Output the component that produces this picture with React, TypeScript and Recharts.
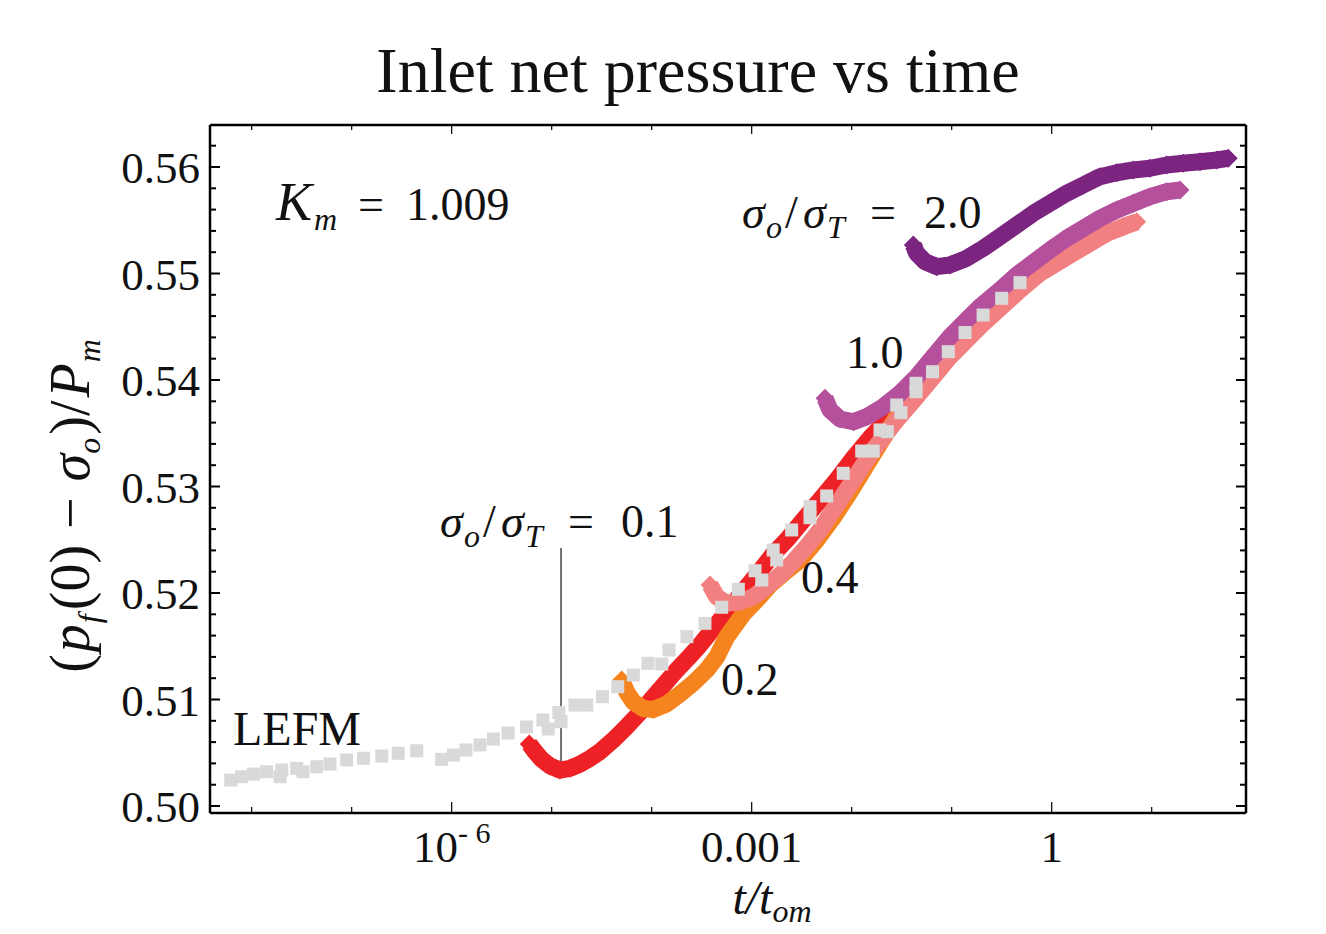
import React from "react";
import { ScatterChart, Scatter, XAxis, YAxis, ReferenceLine } from "recharts";

const W = 1326;
const H = 934;
const SERIF = "'Liberation Serif', 'Times New Roman', serif";

// [t/t_om, (p_f(0) - sigma_o)/P_m]
const lefm: [number, number][] = [
  [6.17e-9, 0.50244], [7.94e-9, 0.50275], [1.04e-8, 0.503], [1.41e-8, 0.50322],
  [1.92e-8, 0.50275], [2.0e-8, 0.50338], [2.82e-8, 0.50354], [3.26e-8, 0.50322],
  [4.47e-8, 0.50369], [6.07e-8, 0.50394], [8.91e-8, 0.50432], [1.31e-7, 0.50448],
  [2.0e-7, 0.50469], [2.92e-7, 0.50495], [4.47e-7, 0.50519], [7.94e-7, 0.50438],
  [1.04e-6, 0.50479], [1.39e-6, 0.50526], [1.92e-6, 0.50573], [2.61e-6, 0.50629],
  [3.66e-6, 0.50685], [5.6e-6, 0.50742], [8.18e-6, 0.50808], [9.25e-6, 0.50723],
  [1.18e-5, 0.50878], [1.24e-5, 0.50792], [1.71e-5, 0.50948], [2.24e-5, 0.50948],
  [3.22e-5, 0.51026], [4.58e-5, 0.5112], [6.55e-5, 0.5123], [9.18e-5, 0.5134],
  [1.26e-4, 0.51333], [1.49e-4, 0.51465], [2.25e-4, 0.5159], [3.41e-4, 0.51715],
  [5.01e-4, 0.51866], [7.35e-4, 0.52035], [1.08e-3, 0.52209], [1.26e-3, 0.52122],
  [1.64e-3, 0.52404], [1.78e-3, 0.5231], [2.51e-3, 0.52592], [3.83e-3, 0.5281],
  [3.83e-3, 0.52707], [5.62e-3, 0.52911], [8.24e-3, 0.53124], [1.26e-2, 0.53333],
  [1.64e-2, 0.53333], [1.92e-2, 0.53531], [2.27e-2, 0.53515], [2.82e-2, 0.53765],
  [3.11e-2, 0.53693], [4.4e-2, 0.53969], [4.4e-2, 0.5389], [6.43e-2, 0.54078],
  [9.25e-2, 0.54266], [0.136, 0.54446], [0.206, 0.5461], [0.316, 0.54767],
  [0.482, 0.54914],
];

const s01: [number, number][] = [
  [5.97e-6, 0.50582], [6.81e-6, 0.5051], [7.94e-6, 0.50438], [9.62e-6, 0.50376],
  [1.21e-5, 0.50338], [1.52e-5, 0.50354], [1.92e-5, 0.50394], [2.42e-5, 0.50448],
  [3.04e-5, 0.5051], [4.13e-5, 0.5062], [5.62e-5, 0.50745], [7.08e-5, 0.50845],
  [8.91e-5, 0.50948], [1.12e-4, 0.51058], [1.41e-4, 0.51167], [1.78e-4, 0.51277],
  [2.32e-4, 0.5139], [3.04e-4, 0.51512], [4.01e-4, 0.51653], [5.62e-4, 0.51822],
  [8.24e-4, 0.52019], [1.21e-3, 0.52207], [1.64e-3, 0.52366], [2.24e-3, 0.52498],
  [3.28e-3, 0.52685], [4.82e-3, 0.52873], [7.08e-3, 0.53061], [1.04e-2, 0.53268],
  [1.52e-2, 0.53455], [2.15e-2, 0.53606], [3.04e-2, 0.53756], [4.82e-2, 0.53944],
];

const s02: [number, number][] = [
  [5.01e-5, 0.51183], [5.62e-5, 0.5107], [6.55e-5, 0.50977], [8.24e-5, 0.50915],
  [1.04e-4, 0.50906], [1.41e-4, 0.50958], [1.92e-4, 0.51052], [2.61e-4, 0.51155],
  [3.55e-4, 0.51277], [4.47e-4, 0.51399], [5.62e-4, 0.51587], [8.24e-4, 0.51803],
  [1.12e-3, 0.51934], [1.52e-3, 0.52075], [2.15e-3, 0.52197], [3.04e-3, 0.5231],
  [4.4e-3, 0.52488], [6.5e-3, 0.52704], [9.62e-3, 0.52948], [1.39e-2, 0.53192],
  [2.01e-2, 0.53437], [2.77e-2, 0.53643], [4.01e-2, 0.5385], [6.07e-2, 0.54075],
];

const s04: [number, number][] = [
  [3.83e-4, 0.52075], [4.47e-4, 0.51965], [5.62e-4, 0.51903], [7.64e-4, 0.51918],
  [1.04e-3, 0.51965], [1.41e-3, 0.52059], [1.92e-3, 0.52169], [2.61e-3, 0.52294],
  [3.55e-3, 0.52435], [4.82e-3, 0.52592], [6.55e-3, 0.52779], [8.91e-3, 0.52967],
  [1.21e-2, 0.53155], [1.64e-2, 0.53343], [2.15e-2, 0.53484], [2.82e-2, 0.53624],
  [4.47e-2, 0.53843], [6.55e-2, 0.54031], [9.62e-2, 0.54219], [0.141, 0.54376],
  [0.207, 0.54532], [0.316, 0.54688], [0.482, 0.54845], [0.764, 0.55002],
  [1.12, 0.55096], [1.64, 0.5519], [2.42, 0.55284], [3.55, 0.55377],
  [5.2, 0.55439], [7.08, 0.55486],
];

const s10: [number, number][] = [
  [5.41e-3, 0.53828], [6.07e-3, 0.53718], [7.64e-3, 0.53634], [1.04e-2, 0.53608],
  [1.41e-2, 0.53655], [2.07e-2, 0.53749], [3.04e-2, 0.53875], [4.47e-2, 0.54031],
  [6.55e-2, 0.54219], [9.62e-2, 0.54407], [0.141, 0.54563], [0.192, 0.54688],
  [0.304, 0.54845], [0.447, 0.54986], [0.655, 0.55103], [0.962, 0.55221],
  [1.41, 0.5533], [2.07, 0.55424], [3.04, 0.55518], [4.47, 0.55596],
  [6.55, 0.55659], [9.62, 0.55721], [14.1, 0.55768], [19.2, 0.55784],
];

const s20: [number, number][] = [
  [4.13e-2, 0.55268], [4.47e-2, 0.5519], [5.41e-2, 0.55111], [7.08e-2, 0.55064],
  [9.62e-2, 0.5508], [0.141, 0.55143], [0.207, 0.55237], [0.304, 0.55346],
  [0.447, 0.55455], [0.655, 0.55565], [0.962, 0.55659], [1.41, 0.55753],
  [2.07, 0.55831], [3.04, 0.55909], [4.47, 0.55946], [6.55, 0.55972],
  [9.62, 0.55988], [14.1, 0.56019], [20.7, 0.56035], [30.4, 0.5605],
  [44.7, 0.56066], [58.3, 0.56082],
];

const X_TICKS = [1e-8, 1e-7, 1e-6, 1e-5, 1e-4, 1e-3, 1e-2, 1e-1, 1, 10];
const X_LABELED = [1e-6, 1e-3, 1];
const Y_TICKS = [
  0.5, 0.502, 0.504, 0.506, 0.508, 0.51, 0.512, 0.514, 0.516, 0.518, 0.52,
  0.522, 0.524, 0.526, 0.528, 0.53, 0.532, 0.534, 0.536, 0.538, 0.54, 0.542,
  0.544, 0.546, 0.548, 0.55, 0.552, 0.554, 0.556, 0.558, 0.56, 0.562,
];
const X_DOMAIN: [number, number] = [3.83e-9, 87.7];
const Y_DOMAIN: [number, number] = [0.499343, 0.563944];

const toPts = (a: [number, number][]) => a.map(([t, p]) => ({ t, p }));

const isLabeledX = (v: number) =>
  X_LABELED.some((l) => Math.abs(Math.log10(l) - Math.log10(v)) < 1e-6);
const isMajorY = (v: number) => Math.abs(v * 100 - Math.round(v * 100)) < 1e-6;

const diamond = (fill: string, r: number) => (props: any) => {
  const { cx, cy } = props;
  if (cx == null || cy == null) return <g />;
  return (
    <polygon
      points={`${cx},${cy - r} ${cx + r},${cy} ${cx},${cy + r} ${cx - r},${cy}`}
      fill={fill}
    />
  );
};

const square = (fill: string, h: number) => (props: any) => {
  const { cx, cy } = props;
  if (cx == null || cy == null) return <g />;
  return <rect x={cx - h} y={cy - h} width={2 * h} height={2 * h} fill={fill} />;
};

function BottomTick(props: any) {
  const { x, y, payload } = props;
  const v = payload.value;
  const lab = isLabeledX(v);
  let label: React.ReactNode = null;
  if (lab) {
    if (Math.abs(Math.log10(v) + 6) < 1e-6) {
      label = (
        <text x={x} y={y + 49} textAnchor="middle" fontSize={45} fontFamily={SERIF} fill="#111">
          10<tspan fontSize={30} dy={-19}>- 6</tspan>
        </text>
      );
    } else {
      label = (
        <text x={x} y={y + 49} textAnchor="middle" fontSize={45} fontFamily={SERIF} fill="#111">
          {v >= 1 ? String(v) : v.toFixed(3)}
        </text>
      );
    }
  }
  return (
    <g>
      <line x1={x} x2={x} y1={y} y2={y - (lab ? 11 : 6)} stroke="#000" strokeWidth={1.2} />
      {label}
    </g>
  );
}

function TopTick(props: any) {
  const { x, y, payload } = props;
  const lab = isLabeledX(payload.value);
  return <line x1={x} x2={x} y1={y} y2={y + (lab ? 9 : 5)} stroke="#000" strokeWidth={1.2} />;
}

function LeftTick(props: any) {
  const { x, y, payload } = props;
  const v = payload.value;
  const major = isMajorY(v);
  return (
    <g>
      <line x1={x} x2={x + (major ? 10 : 6)} y1={y} y2={y} stroke="#000" strokeWidth={2} />
      {major && (
        <text x={x - 10} y={y + 16} textAnchor="end" fontSize={45} fontFamily={SERIF} fill="#111">
          {v.toFixed(2)}
        </text>
      )}
    </g>
  );
}

function RightTick(props: any) {
  const { x, y, payload } = props;
  const major = isMajorY(payload.value);
  return <line x1={x} x2={x - (major ? 10 : 6)} y1={y} y2={y} stroke="#000" strokeWidth={2} />;
}

const SERIES = [
  { name: "0.1", data: s01, color: "#ee2226" },
  { name: "0.2", data: s02, color: "#f5841f" },
  { name: "0.4", data: s04, color: "#f28080" },
  { name: "1.0", data: s10, color: "#b5509d" },
  { name: "2.0", data: s20, color: "#7b2580" },
];

const SUB = 32;

export default function App() {
  return (
    <div style={{ position: "absolute", left: 0, top: 0, width: W, height: H, background: "#fff" }}>
      <ScatterChart width={W} height={H} margin={{ top: 124, right: 79, bottom: 61, left: 110 }}>
        <XAxis
          xAxisId="b"
          dataKey="t"
          type="number"
          scale="log"
          domain={X_DOMAIN}
          allowDataOverflow
          ticks={X_TICKS}
          interval={0}
          height={60}
          tickSize={0}
          tickMargin={0}
          tickLine={false}
          axisLine={{ stroke: "#000", strokeWidth: 2.5 }}
          tick={BottomTick}
        />
        <XAxis
          xAxisId="t"
          orientation="top"
          dataKey="t"
          type="number"
          scale="log"
          domain={X_DOMAIN}
          allowDataOverflow
          ticks={X_TICKS}
          interval={0}
          height={1}
          tickSize={0}
          tickMargin={0}
          tickLine={false}
          axisLine={{ stroke: "#000", strokeWidth: 2.5 }}
          tick={TopTick}
        />
        <YAxis
          yAxisId="l"
          dataKey="p"
          type="number"
          domain={Y_DOMAIN}
          allowDataOverflow
          ticks={Y_TICKS}
          interval={0}
          width={100}
          tickSize={0}
          tickMargin={0}
          tickLine={false}
          axisLine={{ stroke: "#000", strokeWidth: 2.5 }}
          tick={LeftTick}
        />
        <YAxis
          yAxisId="r"
          orientation="right"
          dataKey="p"
          type="number"
          domain={Y_DOMAIN}
          allowDataOverflow
          ticks={Y_TICKS}
          interval={0}
          width={1}
          tickSize={0}
          tickMargin={0}
          tickLine={false}
          axisLine={{ stroke: "#000", strokeWidth: 2.5 }}
          tick={RightTick}
        />
        <ReferenceLine
          xAxisId="b"
          yAxisId="l"
          segment={[
            { x: 1.24e-5, y: 0.52423 },
            { x: 1.24e-5, y: 0.50394 },
          ]}
          stroke="#000"
          strokeWidth={1.1}
        />
        {SERIES.map((s) => (
          <Scatter
            key={s.name}
            name={s.name}
            xAxisId="b"
            yAxisId="l"
            data={toPts(s.data)}
            fill={s.color}
            line={{ stroke: s.color, strokeWidth: 17, strokeLinejoin: "round", strokeLinecap: "butt" }}
            lineType="joint"
            shape={diamond(s.color, 9.5)}
            isAnimationActive={false}
          />
        ))}
        <Scatter
          name="LEFM"
          xAxisId="b"
          yAxisId="l"
          data={toPts(lefm)}
          fill="#d9d9d9"
          shape={square("#d9d9d9", 6.5)}
          isAnimationActive={false}
        />
      </ScatterChart>

      <svg
        width={W}
        height={H}
        style={{ position: "absolute", left: 0, top: 0, pointerEvents: "none" }}
        fontFamily={SERIF}
        fill="#111"
      >
        <text x={698} y={92} textAnchor="middle" fontSize={64}>
          Inlet net pressure vs time
        </text>

        {/* y axis title */}
        <g transform="translate(89,506) rotate(-90)">
          <text x={0} y={0} textAnchor="middle" fontSize={56}>
            <tspan>(</tspan>
            <tspan fontStyle="italic" dx={2}>p</tspan>
            <tspan fontStyle="italic" fontSize={SUB} dy={11} dx={1}>f</tspan>
            <tspan dy={-11} dx={4}>(0)</tspan>
            <tspan dx={16}>−</tspan>
            <tspan fontStyle="italic" dx={16}>σ</tspan>
            <tspan fontStyle="italic" fontSize={SUB} dy={11}>o</tspan>
            <tspan dy={-11} dx={3}>)/</tspan>
            <tspan fontStyle="italic" dx={3}>P</tspan>
            <tspan fontStyle="italic" fontSize={SUB} dy={11} dx={1}>m</tspan>
          </text>
        </g>

        {/* x axis title */}
        <text x={772} y={914} textAnchor="middle" fontSize={48} fontStyle="italic">
          t/t<tspan fontSize={SUB} dy={8}>om</tspan>
        </text>

        {/* K_m annotation */}
        <text y={220} fontSize={46}>
          <tspan x={276} fontStyle="italic" fontSize={54}>K</tspan>
          <tspan x={314} fontStyle="italic" fontSize={SUB} dy={10}>m</tspan>
          <tspan x={358} dy={-10}>=</tspan>
          <tspan x={406}>1.009</tspan>
        </text>

        {/* sigma_o / sigma_T = 2.0 */}
        <text y={228} fontSize={46}>
          <tspan x={742} fontStyle="italic">σ</tspan>
          <tspan x={766} fontStyle="italic" fontSize={SUB} dy={10}>o</tspan>
          <tspan x={785} dy={-10}>/</tspan>
          <tspan x={803} fontStyle="italic">σ</tspan>
          <tspan x={827} fontStyle="italic" fontSize={SUB} dy={10}>T</tspan>
          <tspan x={870} dy={-10}>=</tspan>
          <tspan x={924}>2.0</tspan>
        </text>

        {/* sigma_o / sigma_T = 0.1 */}
        <text y={537} fontSize={46}>
          <tspan x={440} fontStyle="italic">σ</tspan>
          <tspan x={464} fontStyle="italic" fontSize={SUB} dy={10}>o</tspan>
          <tspan x={483} dy={-10}>/</tspan>
          <tspan x={501} fontStyle="italic">σ</tspan>
          <tspan x={525} fontStyle="italic" fontSize={SUB} dy={10}>T</tspan>
          <tspan x={568} dy={-10}>=</tspan>
          <tspan x={621}>0.1</tspan>
        </text>

        <text x={846} y={368} fontSize={46}>1.0</text>
        <text x={801} y={593} fontSize={46}>0.4</text>
        <text x={721} y={695} fontSize={46}>0.2</text>
        <text x={233} y={745} fontSize={48}>LEFM</text>
      </svg>
    </div>
  );
}
